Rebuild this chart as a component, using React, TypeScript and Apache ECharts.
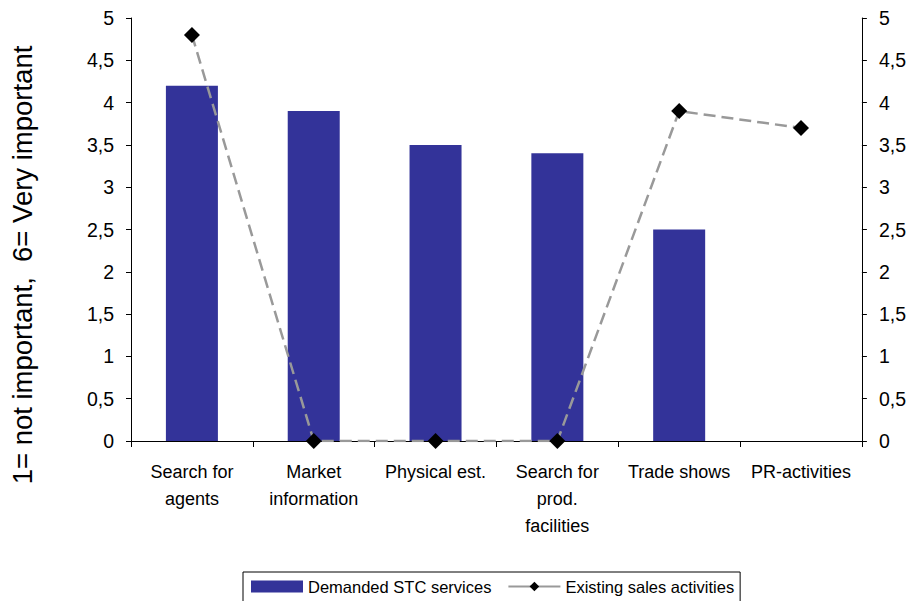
import React, { useEffect, useRef } from "react";
import * as echarts from "echarts";

const categories = [
  "Search for\nagents",
  "Market\ninformation",
  "Physical est.",
  "Search for\nprod.\nfacilities",
  "Trade shows",
  "PR-activities",
];
const demandedSTC = [4.2, 3.9, 3.5, 3.4, 2.5, null];
const existingSales = [4.8, 0, 0, 0, 3.9, 3.7];
const yTicks = { min: 0, max: 5, interval: 0.5 };
const yTitle = "1= not important,  6= Very important";

const sans = "'Liberation Sans', Arial, sans-serif";

export default function App() {
  const ref = useRef<HTMLDivElement>(null);
  useEffect(() => {
    if (!ref.current) return;
    const chart = echarts.init(ref.current, null, { renderer: "svg" });
    const yFmt = (v: number) => String(v).replace(".", ",");
    const yAxisCommon = {
      type: "value" as const,
      min: yTicks.min,
      max: yTicks.max,
      interval: yTicks.interval,
      splitLine: { show: false },
      axisLine: { show: true, lineStyle: { color: "#000", width: 1 } },
      axisTick: { show: true, length: 5, lineStyle: { color: "#000" } },
      axisLabel: { color: "#000", fontSize: 19.5, fontFamily: sans, formatter: yFmt, margin: 17 },
    };
    chart.setOption({
      animation: false,
      backgroundColor: "#fff",
      grid: { left: 131, right: 47, top: 18, bottom: 160, containLabel: false },
      legend: {
        left: 243,
        top: 572,
        borderColor: "#000",
        borderWidth: 1,
        padding: [6, 6, 14, 8],
        itemGap: 16,
        itemWidth: 52,
        itemHeight: 12,
        textStyle: { color: "#000", fontSize: 16.5, fontFamily: sans },
        data: [
          { name: "Demanded STC services", icon: "rect" },
          { name: "Existing sales activities", lineStyle: { type: "solid", color: "#999999" } },
        ],
      },
      xAxis: {
        type: "category",
        data: categories,
        boundaryGap: true,
        axisLine: { show: true, lineStyle: { color: "#000", width: 1 } },
        axisTick: { show: true, length: 6, alignWithLabel: false, lineStyle: { color: "#000" } },
        axisLabel: {
          color: "#000",
          fontSize: 18,
          lineHeight: 27,
          fontFamily: sans,
          margin: 17,
          interval: 0,
        },
      },
      yAxis: [
        { ...yAxisCommon, position: "left" },
        { ...yAxisCommon, position: "right" },
      ],
      graphic: [
        {
          type: "text",
          x: 22,
          y: 265,
          rotation: Math.PI / 2,
          style: {
            text: yTitle,
            fontSize: 27.5,
            fontFamily: sans,
            fill: "#000",
            align: "center",
            verticalAlign: "middle",
          },
        },
      ],
      series: [
        {
          name: "Demanded STC services",
          type: "bar",
          data: demandedSTC,
          barWidth: 52,
          itemStyle: { color: "#333399" },
          yAxisIndex: 0,
        },
        {
          name: "Existing sales activities",
          type: "line",
          data: existingSales,
          yAxisIndex: 1,
          symbol: "diamond",
          symbolSize: 16,
          itemStyle: { color: "#000" },
          lineStyle: { color: "#999999", width: 2.5, type: [12, 6] },
          z: 5,
        },
      ],
    });
    return () => chart.dispose();
  }, []);
  return <div ref={ref} style={{ width: 909, height: 601, position: "absolute", left: 0, top: 0 }} />;
}
